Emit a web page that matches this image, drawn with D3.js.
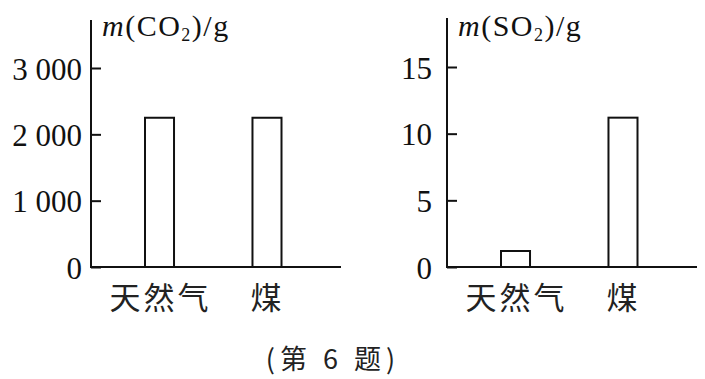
<!DOCTYPE html>
<html>
<head>
<meta charset="utf-8">
<script src="https://cdn.jsdelivr.net/npm/d3@7"></script>
<style>
	body { margin: 0; background: #fff; }
	svg { display: block; }
</style>
</head>
<body>
<svg id="chart" width="705" height="379"></svg>
<script>
// categories and values
var categories = ["天然气", "煤"];
var co2Values = [2250, 2250];
var so2Values = [1.2, 11.2];
var co2Ticks = [0, 1000, 2000, 3000];
var so2Ticks = [0, 5, 10, 15];

var svg = d3.select("#chart");

var baseY = 267,
	axisLen = 250,
	ink = "#111";

// thousands with a space, "3 000"
var spaced = d3.formatLocale({decimal: ".", thousands: " ", grouping: [3], currency: ["", ""]}).format(",");

function drawPanel(left, values, ticks, topTick, topPx, axisTop, formula, labelPad) {
	var g = svg.append("g")
		.attr("transform", "translate(" + left + ",0)");

	var x = d3.scaleBand()
		.domain(categories)
		.range([54, 190.5])
		.paddingInner(0.73)
		.paddingOuter(0);

	var y = d3.scaleLinear()
		.domain([0, topTick])
		.range([baseY, topPx]);

	var axis = d3.axisLeft(y)
		.tickValues(ticks)
		.tickSizeInner(-10)
		.tickSizeOuter(0)
		.tickPadding(labelPad)
		.tickFormat(topTick > 100 ? spaced : d3.format("d"));

	var ax = g.append("g").call(axis)
		.attr("font-family", null)
		.attr("font-size", null);
	ax.select(".domain").remove();
	ax.selectAll(".tick line")
		.attr("stroke", ink)
		.attr("stroke-width", 2);
	ax.selectAll(".tick text")
		.attr("dy", "0.36em")
		.style("font-family", "'Liberation Serif', 'Times New Roman', serif")
		.style("font-size", "31px")
		.style("fill", ink);

	// bars
	g.selectAll("rect")
		.data(values)
		.enter().append("rect")
		.attr("x", function(d, i) { return x(categories[i]); })
		.attr("y", function(d) { return y(d); })
		.attr("width", x.bandwidth())
		.attr("height", function(d) { return y(0) - y(d); })
		.attr("fill", "#fff")
		.attr("stroke", ink)
		.attr("stroke-width", 2);

	// axis lines
	g.append("line")
		.attr("x1", 0).attr("x2", 0)
		.attr("y1", y(0) + 1).attr("y2", axisTop)
		.attr("stroke", ink).attr("stroke-width", 2);
	g.append("line")
		.attr("x1", 0).attr("x2", axisLen)
		.attr("y1", y(0)).attr("y2", y(0))
		.attr("stroke", ink).attr("stroke-width", 2);

	// category labels
	g.selectAll(".cat")
		.data(categories)
		.enter().append("text")
		.attr("class", "cat")
		.attr("x", function(d) { return x(d) + x.bandwidth() / 2 + (d.length > 1 ? 1 : -1); })
		.attr("y", 309)
		.attr("text-anchor", "middle")
		.style("font-family", "'Noto Sans CJK SC', sans-serif")
		.style("font-size", "31px")
		.style("fill", "#222")
		.style("letter-spacing", function(d) { return d.length > 1 ? "3px" : "0px"; })
		.text(function(d) { return d; });

	// y title  m(XO2)/g
	var t = g.append("text")
		.attr("x", 11)
		.attr("y", 36)
		.style("font-family", "'Liberation Serif', 'Times New Roman', serif")
		.style("font-size", "30px")
		.style("letter-spacing", "1.5px")
		.style("fill", ink);
	t.append("tspan").style("font-style", "italic").text("m");
	t.append("tspan").text("(" + formula);
	t.append("tspan").attr("font-size", "18px").attr("dy", 5).text("2");
	t.append("tspan").attr("dy", -5).text(")/g");
}

drawPanel(91, co2Values, co2Ticks, 3000, 68, 20, "CO", 9);
drawPanel(447, so2Values, so2Ticks, 15, 67, 18, "SO", 15);

svg.append("text")
	.attr("x", 333)
	.attr("y", 369)
	.attr("text-anchor", "middle")
	.style("font-family", "'Noto Sans CJK SC', sans-serif")
	.style("font-size", "27px")
	.style("letter-spacing", "5px")
	.style("fill", "#222")
	.text("(第 6 题)");
</script>
</body>
</html>
